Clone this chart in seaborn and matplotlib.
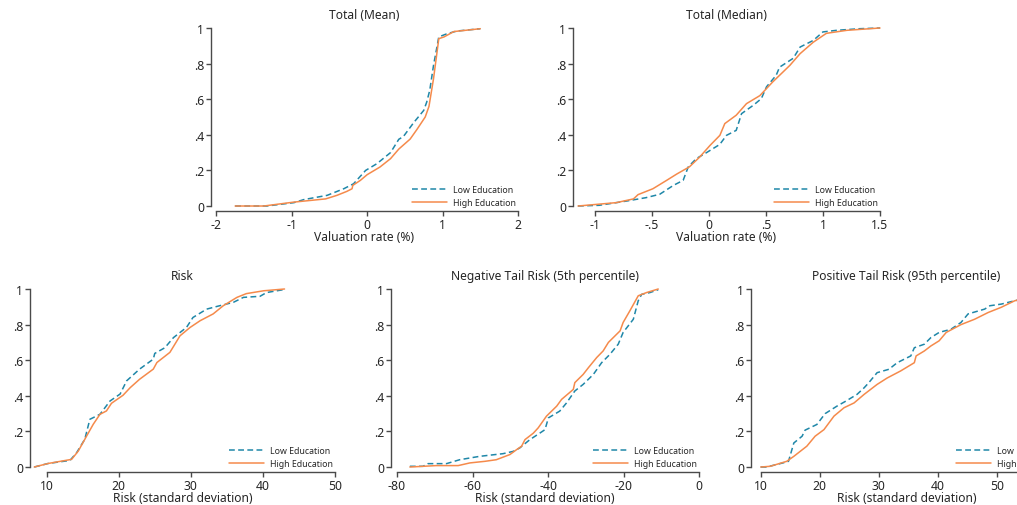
import matplotlib
matplotlib.use("Agg")
import matplotlib.pyplot as plt
import seaborn as sns
import pandas as pd

sns.set_theme(style="white")
plt.rcParams["font.family"] = ["Noto Sans", "DejaVu Sans"]

LOW_COLOR = "#1f87a8"
HIGH_COLOR = "#f58a4b"
TEXT_COLOR = "#262626"
AXIS_COLOR = "#4a4a4a"

# ---- Total (Mean): cumulative share vs valuation rate (%) ----
mean_low_x = [-1.75, -1.33, -0.97, -0.84, -0.53, -0.31, -0.18, -0.02, 0.13, 0.31, 0.42, 0.48,
              0.62, 0.75, 0.79, 0.83, 0.88, 0.95, 1.06, 1.19, 1.50]
mean_low_y = [0.0, 0.0, 0.019, 0.036, 0.06, 0.097, 0.125, 0.20, 0.238, 0.30, 0.375, 0.39,
              0.47, 0.537, 0.584, 0.65, 0.79, 0.95, 0.968, 0.983, 0.996]
mean_high_x = [-1.75, -1.37, -0.97, -0.55, -0.40, -0.27, -0.20, -0.19, -0.09, 0.0, 0.17, 0.31,
               0.42, 0.57, 0.66, 0.77, 0.82, 0.88, 0.95, 1.02, 1.15, 1.50]
mean_high_y = [0.0, 0.0, 0.022, 0.04, 0.06, 0.082, 0.097, 0.116, 0.144, 0.176, 0.219, 0.266,
               0.32, 0.376, 0.43, 0.50, 0.56, 0.715, 0.94, 0.95, 0.98, 0.996]

# ---- Total (Median) ----
med_low_x = [-1.146, -0.96, -0.72, -0.55, -0.43, -0.31, -0.225, -0.18, -0.11, -0.02, 0.096,
             0.155, 0.24, 0.287, 0.39, 0.46, 0.506, 0.59, 0.62, 0.74, 0.80, 0.915, 1.0, 1.12,
             1.32, 1.5]
med_low_y = [0.0, 0.004, 0.028, 0.047, 0.066, 0.116, 0.144, 0.22, 0.266, 0.30, 0.346,
             0.397, 0.425, 0.519, 0.566, 0.603, 0.67, 0.734, 0.78, 0.83, 0.893, 0.93, 0.978,
             0.987, 0.996, 1.0]
med_high_x = [-1.146, -0.81, -0.66, -0.62, -0.49, -0.37, -0.28, -0.17, -0.08, 0.01, 0.097,
              0.14, 0.24, 0.33, 0.447, 0.56, 0.71, 0.80, 0.915, 1.03, 1.21, 1.5]
med_high_y = [0.0, 0.019, 0.04, 0.064, 0.097, 0.144, 0.18, 0.22, 0.275, 0.34, 0.397,
              0.463, 0.51, 0.575, 0.62, 0.697, 0.79, 0.856, 0.92, 0.97, 0.987, 1.0]

# ---- Risk (standard deviation) ----
risk_low_x = [8.29, 10.23, 13.24, 14.16, 15.3, 16.0, 17.4, 18.8, 20.2, 21.1, 22.9, 24.8, 25.0,
              26.4, 27.6, 29.4, 30.3, 32.2, 34.0, 35.9, 37.3, 39.6, 40.5, 42.8]
risk_low_y = [0.0, 0.02, 0.037, 0.08, 0.156, 0.268, 0.296, 0.371, 0.41, 0.484, 0.55, 0.606,
              0.638, 0.67, 0.727, 0.784, 0.84, 0.887, 0.906, 0.925, 0.953, 0.959, 0.98, 0.996]
risk_high_x = [8.29, 10.23, 13.47, 14.4, 15.55, 16.47, 17.4, 18.3, 19.0, 20.6, 21.6, 22.9, 24.8,
               25.3, 27.1, 27.6, 28.5, 29.9, 31.3, 33.1, 34.5, 36.4, 37.7, 40.1, 43.0]
risk_high_y = [0.0, 0.02, 0.043, 0.09, 0.174, 0.24, 0.296, 0.315, 0.358, 0.403, 0.446, 0.493,
               0.55, 0.587, 0.644, 0.677, 0.737, 0.784, 0.822, 0.86, 0.906, 0.953, 0.974, 0.99,
               1.0]

# ---- Negative tail risk (5th percentile) ----
neg_low_x = [-76.6, -73.1, -71.8, -66.9, -63.4, -58.1, -51.9, -49.2, -47.5, -44.8, -42.2, -40.8,
             -39.9, -36.9, -35.1, -32.9, -30.7, -28.0, -25.8, -23.6, -21.4, -20.1, -17.4, -16.1,
             -15.2, -13.0, -10.8]
neg_low_y = [0.004, 0.004, 0.019, 0.019, 0.041, 0.06, 0.075, 0.088, 0.107, 0.154, 0.19, 0.21,
             0.276, 0.314, 0.36, 0.427, 0.464, 0.52, 0.586, 0.633, 0.69, 0.756, 0.83, 0.934,
             0.97, 0.98, 0.996]
neg_high_x = [-76.6, -69.6, -63.8, -60.7, -56.7, -53.7, -50.1, -48.3, -47.0, -46.1, -43.9, -42.6,
              -40.4, -37.7, -36.4, -33.3, -32.9, -30.7, -29.3, -27.1, -25.4, -24.0, -20.9, -20.1,
              -18.3, -16.1, -13.9, -10.8]
neg_high_y = [0.0, 0.008, 0.008, 0.023, 0.032, 0.041, 0.07, 0.098, 0.117, 0.154, 0.19, 0.22,
              0.286, 0.342, 0.38, 0.436, 0.474, 0.52, 0.558, 0.615, 0.652, 0.70, 0.765, 0.812,
              0.878, 0.962, 0.98, 1.0]

# ---- Positive tail risk (95th percentile) ----
pos_low_x = [10.0, 11.0, 14.1, 14.7, 15.6, 17.0, 17.5, 19.5, 20.9, 22.9, 24.4, 26.3, 27.5, 28.3,
             29.7, 31.7, 33.1, 35.4, 36.0, 37.7, 38.8, 40.2, 42.2, 43.9, 45.1, 47.9, 48.8, 50.7,
             53.0, 54.5]
pos_low_y = [0.0, 0.0, 0.026, 0.032, 0.135, 0.173, 0.207, 0.239, 0.30, 0.342, 0.37, 0.408,
             0.445, 0.474, 0.53, 0.549, 0.586, 0.624, 0.67, 0.69, 0.727, 0.756, 0.774, 0.812,
             0.86, 0.887, 0.906, 0.915, 0.934, 0.945]
pos_high_x = [10.0, 11.6, 14.4, 15.6, 17.8, 19.2, 20.7, 22.4, 24.1, 25.8, 27.5, 29.7, 31.4, 33.7,
              36.0, 36.3, 37.7, 38.8, 40.2, 41.4, 43.9, 46.2, 48.5, 50.7, 53.0, 54.5]
pos_high_y = [0.0, 0.004, 0.032, 0.06, 0.117, 0.173, 0.21, 0.286, 0.333, 0.36, 0.408, 0.464,
              0.50, 0.54, 0.586, 0.624, 0.652, 0.68, 0.709, 0.756, 0.80, 0.83, 0.868, 0.897,
              0.934, 0.945]

y_ticks = [0, 0.2, 0.4, 0.6, 0.8, 1.0]
y_tick_labels = ["0", ".2", ".4", ".6", ".8", "1"]

panels = [
    dict(title="Total (Mean)", xlabel="Valuation rate (%)",
         low=(mean_low_x, mean_low_y), high=(mean_high_x, mean_high_y),
         xticks=[-2, -1, 0, 1, 2], xticklabels=["-2", "-1", "0", "1", "2"],
         xlim=(-2.07, 2.0), pos=(211, 29), width=307),
    dict(title="Total (Median)", xlabel="Valuation rate (%)",
         low=(med_low_x, med_low_y), high=(med_high_x, med_high_y),
         xticks=[-1, -0.5, 0, 0.5, 1, 1.5], xticklabels=["-1", "-.5", "0", ".5", "1", "1.5"],
         xlim=(-1.19, 1.5), pos=(573, 29), width=307),
    dict(title="Risk", xlabel="Risk (standard deviation)",
         low=(risk_low_x, risk_low_y), high=(risk_high_x, risk_high_y),
         xticks=[10, 20, 30, 40, 50], xticklabels=["10", "20", "30", "40", "50"],
         xlim=(7.7, 50), pos=(30, 290), width=305),
    dict(title="Negative Tail Risk (5th percentile)", xlabel="Risk (standard deviation)",
         low=(neg_low_x, neg_low_y), high=(neg_high_x, neg_high_y),
         xticks=[-80, -60, -40, -20, 0], xticklabels=["-80", "-60", "-40", "-20", "0"],
         xlim=(-81.6, 0), pos=(391, 290), width=308),
    dict(title="Positive Tail Risk (95th percentile)", xlabel="Risk (standard deviation)",
         low=(pos_low_x, pos_low_y), high=(pos_high_x, pos_high_y),
         xticks=[10, 20, 30, 40, 50, 60], xticklabels=["10", "20", "30", "40", "50", "60"],
         xlim=(8.35, 61.0), pos=(751, 290), width=311),
]

W, H = 1017, 506
fig = plt.figure(figsize=(W / 100, H / 100), dpi=100)
fig.patch.set_facecolor("white")

AX_H = 183          # plot height in pixels (top of y-range to x-axis line)
Y_LO = -0.028

for p in panels:
    left_px, top_px = p["pos"]
    ax = fig.add_axes([left_px / W, 1 - (top_px + AX_H) / H, p["width"] / W, AX_H / H])
    lx, ly = p["low"]
    hx, hy = p["high"]
    df_low = pd.DataFrame({"x": lx, "y": ly})
    df_high = pd.DataFrame({"x": hx, "y": hy})
    sns.lineplot(data=df_low, x="x", y="y", ax=ax, color=LOW_COLOR, lw=1.1,
                 linestyle=(0, (3.8, 2.2)), sort=False, estimator=None,
                 label="Low Education", clip_on=False)
    sns.lineplot(data=df_high, x="x", y="y", ax=ax, color=HIGH_COLOR, lw=1.1,
                 sort=False, estimator=None, label="High Education", clip_on=False)

    ax.set_xlim(*p["xlim"])
    ax.set_ylim(Y_LO, 1.0)
    ax.set_xticks(p["xticks"])
    ax.set_xticklabels(p["xticklabels"])
    ax.set_yticks(y_ticks)
    ax.set_yticklabels(y_tick_labels)

    for side in ("top", "right"):
        ax.spines[side].set_visible(False)
    for side in ("left", "bottom"):
        ax.spines[side].set_color(AXIS_COLOR)
        ax.spines[side].set_linewidth(1.0)
    ax.spines["left"].set_bounds(0, 1)
    ax.spines["bottom"].set_bounds(p["xticks"][0], p["xticks"][-1])

    ax.tick_params(axis="both", which="major", direction="out", length=3.5, width=1.0,
                   color=AXIS_COLOR, labelsize=8.8, labelcolor=TEXT_COLOR, pad=1.5,
                   left=True, bottom=True)
    ax.set_title(p["title"], fontsize=8.7, color=TEXT_COLOR, pad=7)
    ax.set_xlabel(p["xlabel"], fontsize=8.7, color=TEXT_COLOR, labelpad=-0.5)
    ax.set_ylabel("")
    ax.grid(False)
    ax.set_facecolor("white")

    leg = ax.legend(loc="lower right", bbox_to_anchor=(1.0, 0.01), frameon=False,
                    fontsize=6.3, handlelength=4.0, handletextpad=0.7, labelspacing=0.55,
                    borderaxespad=0.0, borderpad=0.2)
    for t in leg.get_texts():
        t.set_color(TEXT_COLOR)

fig.savefig("out.png", dpi=100, facecolor="white")
